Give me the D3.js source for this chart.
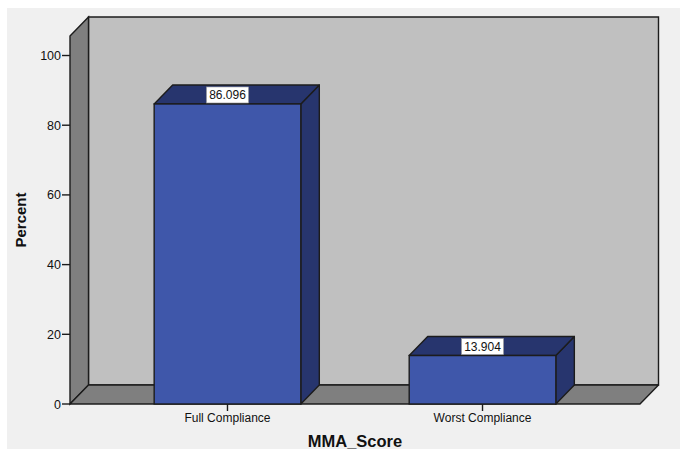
<!DOCTYPE html>
<html>
<head>
<meta charset="utf-8">
<script src="https://cdn.jsdelivr.net/npm/d3@7/dist/d3.min.js"></script>
<style>
  html, body { margin: 0; padding: 0; background: #ffffff; }
  svg { display: block; font-family: "Liberation Sans", Arial, sans-serif; }
</style>
</head>
<body>
<svg id="chart" width="680" height="452"></svg>
<script>
// Category labels and percentages for the MMA_Score bar chart
const categories = ["Full Compliance", "Worst Compliance"];
const percents = [86.096, 13.904];
const yTicks = [0, 20, 40, 60, 80, 100];
const yTop = 105.6;          // value reached by the top of the front wall edge

const W = 680, H = 452;
const svg = d3.select("#chart");

// panel background
svg.append("rect").attr("x", 7).attr("y", 8).attr("width", W - 7).attr("height", 441)
  .attr("fill", "#f0f0f0");

// front plane of the chart
const x0 = 70, x1 = 640;
const yBase = 404;
const depth = { dx: 18.5, dy: -19 };

const x = d3.scaleBand().domain(categories).range([x0, x1])
  .paddingInner(0.425).paddingOuter(0.33);
const y = d3.scaleLinear().domain([0, yTop]).range([yBase, 36]);

const stroke = "#1c1c1c";
const sw = 1.4;
const pt = (px, py) => `${px},${py}`;
const poly = pts => pts.map(p => pt(p[0], p[1])).join(" ");

// back wall
svg.append("polygon")
  .attr("points", poly([[x0 + depth.dx, y(yTop) + depth.dy], [x1 + depth.dx, y(yTop) + depth.dy],
                        [x1 + depth.dx, yBase + depth.dy], [x0 + depth.dx, yBase + depth.dy]]))
  .attr("fill", "#c0c0c0").attr("stroke", stroke).attr("stroke-width", sw);

// left wall
svg.append("polygon")
  .attr("points", poly([[x0, y(yTop)], [x0 + depth.dx, y(yTop) + depth.dy],
                        [x0 + depth.dx, yBase + depth.dy], [x0, yBase]]))
  .attr("fill", "#7f7f7f").attr("stroke", stroke).attr("stroke-width", sw);

// floor
svg.append("polygon")
  .attr("points", poly([[x0, yBase], [x0 + depth.dx, yBase + depth.dy],
                        [x1 + depth.dx, yBase + depth.dy], [x1, yBase]]))
  .attr("fill", "#7f7f7f").attr("stroke", stroke).attr("stroke-width", sw)
  .attr("stroke-linejoin", "round");

// bars: front, top and right side faces
const bars = svg.append("g").selectAll("g").data(categories).join("g");
bars.each(function (c, i) {
  const g = d3.select(this);
  const bx = x(c), bw = x.bandwidth();
  const by = y(percents[i]);
  // right side
  g.append("polygon")
    .attr("points", poly([[bx + bw, by], [bx + bw + depth.dx, by + depth.dy],
                          [bx + bw + depth.dx, yBase + depth.dy], [bx + bw, yBase]]))
    .attr("fill", "#27356e").attr("stroke", stroke).attr("stroke-width", sw)
    .attr("stroke-linejoin", "round");
  // top
  g.append("polygon")
    .attr("points", poly([[bx, by], [bx + depth.dx, by + depth.dy],
                          [bx + bw + depth.dx, by + depth.dy], [bx + bw, by]]))
    .attr("fill", "#27356e").attr("stroke", stroke).attr("stroke-width", sw)
    .attr("stroke-linejoin", "round");
  // front
  g.append("rect")
    .attr("x", bx).attr("y", by).attr("width", bw).attr("height", yBase - by)
    .attr("fill", "#3f57aa").attr("stroke", stroke).attr("stroke-width", sw);

  // value label
  const cx = bx + bw / 2;
  const label = d3.format(".3f")(percents[i]);
  g.append("rect")
    .attr("x", cx - 21).attr("y", by - 17).attr("width", 42).attr("height", 16)
    .attr("fill", "#ffffff").attr("stroke", "#9a9a9a").attr("stroke-width", 0.6);
  g.append("text")
    .attr("x", cx).attr("y", by - 5)
    .attr("text-anchor", "middle").attr("font-size", 12).attr("fill", "#111")
    .text(label);
});

// y axis ticks and labels
const yAxis = svg.append("g");
yTicks.forEach(t => {
  yAxis.append("line")
    .attr("x1", x0 - 8).attr("x2", x0).attr("y1", y(t)).attr("y2", y(t))
    .attr("stroke", stroke).attr("stroke-width", 1.4);
  yAxis.append("text")
    .attr("x", x0 - 9).attr("y", y(t) + 4.5)
    .attr("text-anchor", "end").attr("font-size", 12.5).attr("fill", "#111")
    .text(t);
});

// x axis ticks and labels
const xAxis = svg.append("g");
categories.forEach(c => {
  const cx = x(c) + x.bandwidth() / 2;
  xAxis.append("line")
    .attr("x1", cx).attr("x2", cx).attr("y1", yBase).attr("y2", yBase + 7)
    .attr("stroke", stroke).attr("stroke-width", 1.4);
  xAxis.append("text")
    .attr("x", cx).attr("y", yBase + 18)
    .attr("text-anchor", "middle").attr("font-size", 12).attr("fill", "#111")
    .text(c);
});

// axis titles
svg.append("text")
  .attr("x", (x0 + x1) / 2).attr("y", 447)
  .attr("text-anchor", "middle").attr("font-size", 16.5).attr("font-weight", "bold")
  .attr("fill", "#111").text("MMA_Score");

svg.append("text")
  .attr("transform", `translate(26,${(y(0) + y(yTop)) / 2}) rotate(-90)`)
  .attr("text-anchor", "middle").attr("font-size", 15).attr("font-weight", "bold")
  .attr("fill", "#111").text("Percent");
</script>
</body>
</html>
